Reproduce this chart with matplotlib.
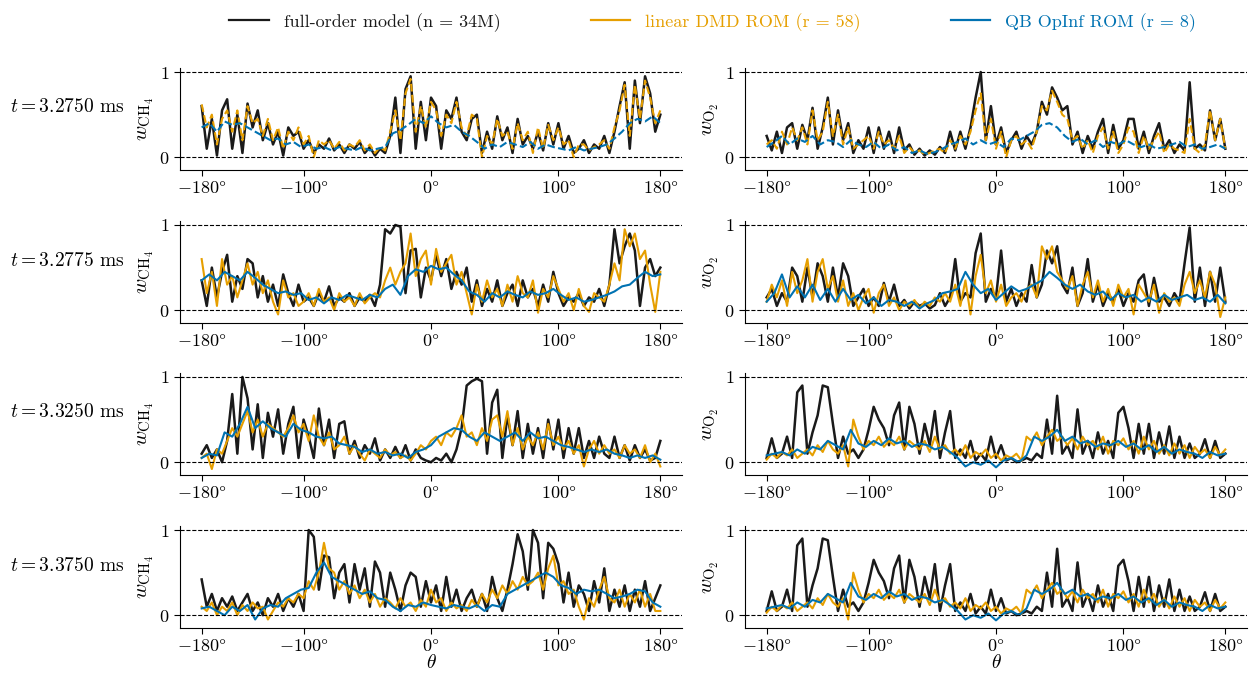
import numpy as np
import matplotlib.pyplot as plt

plt.rcParams['font.family'] = ['cmr10', 'DejaVu Serif']
plt.rcParams['mathtext.fontset'] = 'cm'
plt.rcParams['axes.unicode_minus'] = False
plt.rcParams['axes.formatter.use_mathtext'] = True

# angle grids (deg)
theta4 = np.arange(-180, 181, 4)
theta6 = np.arange(-180, 181, 6)

times = ['3.2750', '3.2775', '3.3250', '3.3750']
labels = ['full-order model (n = 34M)', 'linear DMD ROM (r = 58)', 'QB OpInf ROM (r = 8)']

# ---- CH4, t = 3.2750 ms
fom_ch4_1 = [.60, .10, .45, .02, .55, .68, .10, .50, .05, .63,
             .35, .55, .20, .40, .15, .30, .02, .35, .25, .30,
             .10, .20, .05, .15, .10, .22, .08, .15, .05, .15,
             .10, .18, .05, .12, .02, .10, .05, .25, .70, .05,
             .80, .95, .10, .65, .20, .70, .60, .10, .55, .45,
             .70, .30, .20, .45, .50, .05, .30, .10, .48, .20,
             .35, .05, .45, .15, .25, .10, .30, .08, .40, .15,
             .40, .10, .25, .05, .10, .20, .05, .15, .10, .25,
             .05, .30, .60, .88, .10, .90, .40, .95, .75, .30, .50]
dmd_ch4_1 = [.62, .35, .50, .15, .45, .55, .30, .55, .20, .60,
             .40, .45, .25, .45, .20, .35, .10, .30, .20, .35,
             .15, .25, .00, .20, .15, .20, .10, .18, .08, .15,
             .12, .20, .08, .15, .05, .12, .08, .30, .55, .20,
             .75, .92, .30, .60, .35, .65, .55, .25, .50, .40,
             .65, .35, .25, .50, .45, .00, .25, .15, .45, .25,
             .30, .10, .40, .20, .30, .05, .35, .10, .38, .20,
             .35, .15, .20, .00, .15, .15, .08, .12, .15, .20,
             .10, .35, .55, .85, .25, .85, .45, .90, .70, .40, .55]
opi_ch4_1 = [.35, .40, .30, .42, .38, .40, .35, .30, .25, .20,
             .22, .15, .18, .12, .15, .10, .12, .08, .12, .10,
             .08, .12, .08, .10, .12, .28, .32, .38, .45, .40,
             .48, .40, .35, .38, .30, .25, .18, .10, .15, .12,
             .18, .15, .12, .18, .10, .15, .12, .10, .08, .12,
             .08, .10, .12, .15, .22, .30, .40, .45, .42, .48, .40]

# ---- O2, t = 3.2750 ms
fom_o2_1 = [.25, .08, .30, .05, .35, .40, .10, .38, .20, .58,
            .10, .35, .70, .15, .55, .20, .40, .05, .20, .10,
            .35, .05, .35, .10, .30, .05, .35, .08, .15, .03,
            .10, .02, .08, .03, .12, .05, .30, .08, .30, .10,
            .35, .70, 1.0, .20, .60, .15, .35, .05, .20, .30,
            .10, .25, .15, .30, .65, .50, .82, .70, .55, .60,
            .15, .30, .05, .25, .10, .30, .45, .05, .38, .10,
            .20, .45, .45, .10, .30, .05, .25, .40, .10, .20,
            .05, .15, .08, .88, .10, .15, .08, .55, .20, .45, .10]
dmd_o2_1 = [.15, .20, .10, .30, .15, .35, .20, .35, .15, .55,
            .20, .30, .65, .25, .50, .15, .35, .10, .15, .20,
            .25, .10, .30, .15, .20, .10, .25, .05, .12, .05,
            .08, .03, .05, .08, .10, .05, .20, .10, .25, .15,
            .30, .55, .75, .20, .45, .10, .30, .00, .20, .25,
            .15, .20, .10, .30, .60, .55, .78, .65, .50, .45,
            .20, .25, .10, .20, .05, .25, .35, .10, .30, .05,
            .15, .35, .30, .05, .25, .10, .20, .30, .05, .15,
            .10, .08, .05, .45, .10, .05, .15, .55, .20, .45, .10]
opi_o2_1 = [.12, .18, .25, .15, .22, .18, .25, .15, .20, .18,
            .12, .20, .15, .12, .18, .10, .15, .08, .12, .05,
            .08, .04, .06, .10, .15, .18, .22, .15, .20, .15,
            .18, .12, .22, .20, .25, .30, .38, .40, .35, .25,
            .18, .22, .15, .20, .12, .18, .15, .20, .15, .12,
            .15, .10, .12, .15, .18, .12, .15, .10, .12, .15, .10]

# ---- CH4, t = 3.2775 ms
fom_ch4_2 = [.35, .05, .50, .15, .45, .65, .10, .40, .25, .60,
             .55, .15, .40, .10, .30, .05, .42, .20, .05, .30,
             .10, .15, .05, .20, .10, .28, .05, .15, .10, .20,
             .05, .15, .10, .18, .05, .30, .95, .90, 1.0, .98,
             .20, .70, .72, .15, .50, .35, .65, .40, .60, .25,
             .45, .30, .50, .10, .35, .05, .25, .10, .35, .05,
             .20, .30, .05, .35, .15, .25, .05, .30, .10, .45,
             .20, .05, .15, .10, .20, .05, .15, .10, .25, .05,
             .30, .95, .55, .75, .90, .70, .05, .50, .60, .40, .50]
dmd_ch4_2 = [.60, .20, .45, .05, .60, .30, .40, .15, .35, .55,
             .30, .45, .20, .35, .10, -.05, .35, .15, .20, .05,
             .10, .20, .05, .25, .10, .15, .00, .20, .10, .15,
             .05, .20, .08, .15, .20, .15, .35, .50, .30, .45,
             .55, .90, .40, .60, .70, .30, .72, .45, .55, .65,
             .30, .45, .20, -.05, .30, .10, .35, .15, .25, .05,
             .30, .10, .40, .20, .15, .35, -.03, .25, .15, .40,
             .25, .10, .20, .00, .25, .05, -.02, .20, .15, .10,
             .30, .55, .35, .95, .75, .90, .60, .70, .30, -.02, .45]
opi_ch4_2 = [.35, .42, .35, .45, .40, .35, .45, .38, .30, .25,
             .20, .22, .18, .20, .12, .15, .08, .15, .12, .18,
             .15, .12, .18, .15, .25, .30, .18, .40, .48, .45,
             .52, .48, .50, .42, .35, .22, .18, .10, .20, .15,
             .22, .18, .15, .22, .18, .20, .25, .18, .12, .15,
             .10, .12, .15, .18, .22, .28, .30, .38, .45, .40, .42]

# ---- O2, t = 3.2775 ms
fom_o2_2 = [.15, .25, .05, .20, .10, .50, .40, .10, .50, .15,
            .55, .40, .10, .50, .15, .55, .40, .05, .15, .25,
            .05, .15, .05, .32, .10, .30, .05, .12, .02, .10,
            .05, .08, .02, .06, .20, .05, .15, .60, .10, .20,
            .15, .67, .90, .10, .25, .15, .70, .10, .25, .05,
            .20, .10, .53, .15, .30, .70, .55, .75, .30, .20,
            .50, .05, .20, .60, .10, .30, .05, .20, .10, .25,
            .05, .20, .10, .35, .42, .05, .38, .10, .15, .05,
            .20, .10, .55, .97, .10, .50, .05, .45, .10, .50, .10]
dmd_o2_2 = [.10, .30, .15, .35, .05, .45, .20, .35, .60, .10,
            .45, .60, .25, .40, .10, .35, .05, .20, .00, .15,
            .25, -.03, .20, .30, .05, .15, .00, .10, .05, .12,
            .02, .10, .05, .15, .10, .20, .10, .30, .05, .35,
            -.05, .40, .65, .20, .35, .10, .30, .05, .15, .20,
            .10, .25, .30, .15, .75, .60, .75, .45, .35, .25,
            .40, .05, .30, .45, .15, .35, .10, .25, .05, .30,
            .15, .25, -.05, .30, .20, .10, .30, -.03, .20, .10,
            .15, .05, .30, .45, .20, .35, .15, .45, .30, -.08, .15]
opi_o2_2 = [.10, .20, .42, .15, .28, .15, .30, .12, .25, .10,
            .25, .12, .18, .08, .15, .05, .12, .10, .05, .10,
            .02, .08, .12, .20, .22, .25, .45, .30, .20, .25,
            .12, .20, .28, .22, .25, .30, .35, .45, .38, .30,
            .25, .30, .22, .18, .22, .12, .20, .15, .18, .10,
            .15, .10, .18, .12, .15, .18, .12, .15, .10, .18, .08]

# ---- CH4, t = 3.3250 ms
fom_ch4_3 = [.10, .20, .05, .15, .00, .25, .80, .10, 1.0, .75,
             .15, .68, .05, .58, .30, .62, .10, .45, .65, .05,
             .50, .30, .05, .63, .20, .50, .05, .45, .48, .10,
             .25, .05, .20, .10, .28, .02, .15, .05, .18, .05,
             .20, .02, .15, .05, .02, .00, .05, .02, .10, .00,
             .15, .40, .90, .95, .98, .95, .10, .70, .85, .05,
             .55, .20, .60, .05, .45, .10, .40, .05, .50, .15,
             .50, .05, .40, .10, .40, .05, .25, .05, .30, .10,
             .05, .30, .05, .20, .02, .20, .05, .15, .02, .05, .25]
dmd_ch4_3 = [.05, .10, -.08, .15, .10, .25, .40, .30, .45, .60,
             .35, .50, .30, .45, .40, .35, .30, .40, .55, .35,
             .45, .25, .55, .30, .20, .35, .15, .20, .30, .10,
             .20, .10, .02, .15, .10, .05, .15, .08, .12, .05,
             .08, .02, .10, .20, .15, .25, .30, .20, .35, .30,
             .40, .55, .30, .35, .20, .40, .25, .50, .55, .30,
             .60, .20, .40, .15, .30, .20, .35, .15, .45, .20,
             .30, .15, .25, .10, .20, -.05, .15, .25, .10, .20,
             .10, .15, .05, .20, .10, .15, .05, .20, .00, .10, -.05]
opi_ch4_3 = [.05, .10, .08, .35, .30, .45, .65, .40, .48, .40,
             .35, .30, .45, .38, .35, .30, .28, .30, .22, .20,
             .18, .12, .15, .10, .12, .08, .10, .05, .12, .15,
             .20, .30, .35, .40, .38, .30, .25, .35, .30, .25,
             .30, .35, .25, .35, .28, .30, .25, .20, .18, .15,
             .12, .15, .12, .15, .10, .08, .05, .08, .05, .08, .03]

# ---- O2, t = 3.3250 ms (t = 3.3750 ms panel shows the same curves)
fom_o2_3 = [.05, .28, .05, .10, .30, .05, .82, .90, .10, .35,
            .55, .90, .88, .45, .05, .30, .10, .15, .05, .15,
            .38, .65, .50, .40, .20, .55, .70, .15, .65, .45,
            .10, .45, .20, .60, .05, .35, .60, .05, .15, .05,
            .25, .02, .10, .02, .30, .05, .20, .02, .05, .00,
            .02, .05, .02, .10, .05, .50, .10, .78, .10, .20,
            .05, .62, .10, .25, .05, .35, .10, .25, .05, .58,
            .65, .40, .05, .45, .10, .45, .05, .35, .10, .42,
            .05, .30, .05, .22, .05, .10, .27, .05, .25, .05, .10]
dmd_o2_3 = [.03, .10, .05, .12, .08, .15, .05, .10, .15, .08,
            .20, .12, .25, .15, .10, .20, -.05, .50, .30, .15,
            .25, .20, .30, .18, .25, .20, .30, .15, .25, .20,
            .15, .25, .12, .30, .15, .20, .10, .15, .08, .20,
            .05, .12, .08, .15, .05, .10, .02, .08, .05, .10,
            .02, .30, .25, .35, .20, .30, .38, .25, .30, .20,
            .28, .15, .30, .20, .25, .15, .30, .10, .25, .20,
            .28, .15, .25, .10, .30, .15, .25, .10, .20, .08,
            .22, .10, .20, .05, .18, .10, .15, .05, .18, .08, .15]
opi_o2_3 = [.08, .10, .12, .08, .15, .10, .18, .15, .25, .20,
            .15, .38, .22, .18, .25, .20, .28, .22, .25, .18,
            .22, .20, .15, .18, .12, .05, -.05, .00, -.03, .02,
            -.06, .02, .05, .00, .08, .30, .25, .30, .38, .25,
            .30, .22, .25, .18, .22, .20, .25, .18, .22, .15,
            .20, .12, .18, .10, .15, .12, .10, .05, .12, .08, .10]

# ---- CH4, t = 3.3750 ms
fom_ch4_4 = [.42, .10, .25, .05, .20, .10, .22, .05, .15, .25,
             .05, .15, .00, .20, .10, .25, .05, .20, .10, .25,
             .05, 1.0, .92, .30, .70, .68, .20, .50, .60, .15,
             .60, .30, .55, .10, .63, .50, .10, .50, .30, .05,
             .35, .50, .45, .10, .40, .15, .35, .05, .45, .10,
             .30, .05, .20, .30, .10, .25, .05, .45, .20, .05,
             .30, .60, .95, .75, .30, 1.0, .85, .20, .85, .78,
             .60, .15, .50, .10, .35, .25, .05, .40, .15, .55,
             .05, .30, .10, .35, .05, .30, .10, .40, .05, .20, .35]
dmd_ch4_4 = [.10, .05, .15, .00, .10, .05, .15, .00, .12, .05,
             .15, .08, .10, -.05, .05, .15, .10, .20, .15, .25,
             .20, .40, .30, .50, .85, .55, .50, .30, .40, .25,
             .35, .20, .30, .15, .25, .10, .20, .15, .08, .20,
             .10, .15, .05, .18, .10, .30, .15, .20, .05, .15,
             .08, .12, .05, .18, .10, .25, .15, .30, .20, .35,
             .25, .40, .30, .45, .35, .40, .50, .30, .55, .70,
             .35, .40, .25, .30, .10, -.05, .20, .10, .30, .45,
             .20, .15, .30, .10, .25, .15, .30, .10, .25, .05, .05]
opi_ch4_4 = [.08, .10, .05, .00, .10, .05, .12, -.05, .08, .12,
             .10, .20, .25, .30, .32, .50, .62, .45, .40, .35,
             .30, .25, .28, .20, .18, .10, .05, .12, .10, .15,
             .12, .10, .08, .12, .10, .08, .12, .05, .12, .10,
             .25, .30, .35, .40, .45, .50, .45, .35, .32, .25,
             .30, .28, .30, .25, .20, .22, .25, .30, .28, .15, .10]

fom_o2_4 = fom_o2_3
dmd_o2_4 = dmd_o2_3
opi_o2_4 = opi_o2_3

fom = [[fom_ch4_1, fom_ch4_2, fom_ch4_3, fom_ch4_4], [fom_o2_1, fom_o2_2, fom_o2_3, fom_o2_4]]
dmd = [[dmd_ch4_1, dmd_ch4_2, dmd_ch4_3, dmd_ch4_4], [dmd_o2_1, dmd_o2_2, dmd_o2_3, dmd_o2_4]]
opi = [[opi_ch4_1, opi_ch4_2, opi_ch4_3, opi_ch4_4], [opi_o2_1, opi_o2_2, opi_o2_3, opi_o2_4]]

fom_c = '#1a1a1a'
dmd_c = '#E69F00'
opi_c = '#0072B2'

fig = plt.figure(figsize=(12.5, 6.75), dpi=100)
bottoms = [0.7481, 0.5215, 0.2963, 0.0696]
lefts = [0.144, 0.596]
w, h = 0.4016, 0.1515
row_y = [0.8415, 0.6133, 0.3896, 0.1615]
ylabs = [r'$w_{\mathrm{CH}_4}$', r'$w_{\mathrm{O}_2}$']

for i in range(4):
    ls = '--' if i == 0 else '-'
    for j in range(2):
        ax = fig.add_axes([lefts[j], bottoms[i], w, h])
        ax.plot(theta4, fom[j][i], color=fom_c, lw=1.8)
        ax.plot(theta4, dmd[j][i], color=dmd_c, lw=1.5, ls=ls)
        ax.plot(theta6, opi[j][i], color=opi_c, lw=1.5, ls=ls)
        ax.axhline(0, color='k', ls='--', lw=0.8)
        ax.axhline(1, color='k', ls='--', lw=0.8)
        ax.set_xlim(-197, 197)
        ax.set_ylim(-0.15, 1.05)
        ax.set_xticks([-180, -100, 0, 100, 180])
        ax.set_xticklabels([r'$-180\degree$', r'$-100\degree$', r'$0\degree$',
                            r'$100\degree$', r'$180\degree$'])
        ax.set_yticks([0, 1])
        ax.set_yticklabels([r'$0$', r'$1$'])
        ax.tick_params(direction='out', length=4, width=0.8, labelsize=13)
        for s in ['top', 'right']:
            ax.spines[s].set_visible(False)
        for s in ['left', 'bottom']:
            ax.spines[s].set_linewidth(0.8)
        ax.set_ylabel(ylabs[j], fontsize=15, labelpad=2)
        if i == 3:
            ax.set_xlabel(r'$\theta$', fontsize=14, labelpad=0)
    fig.text(0.008, row_y[i], r'$t = ' + times[i] + '$ ms', fontsize=14,
             ha='left', va='center')

handles = [plt.Line2D([], [], color=c, lw=1.6) for c in [fom_c, dmd_c, opi_c]]
leg = fig.legend(handles, labels, loc='upper center', bbox_to_anchor=(0.57, 1.005),
                 ncol=3, frameon=False, fontsize=13, handlelength=2.2,
                 columnspacing=5, handletextpad=0.8)
for t, c in zip(leg.get_texts(), [fom_c, dmd_c, opi_c]):
    t.set_color(c)

fig.savefig('out.png', dpi=100)
